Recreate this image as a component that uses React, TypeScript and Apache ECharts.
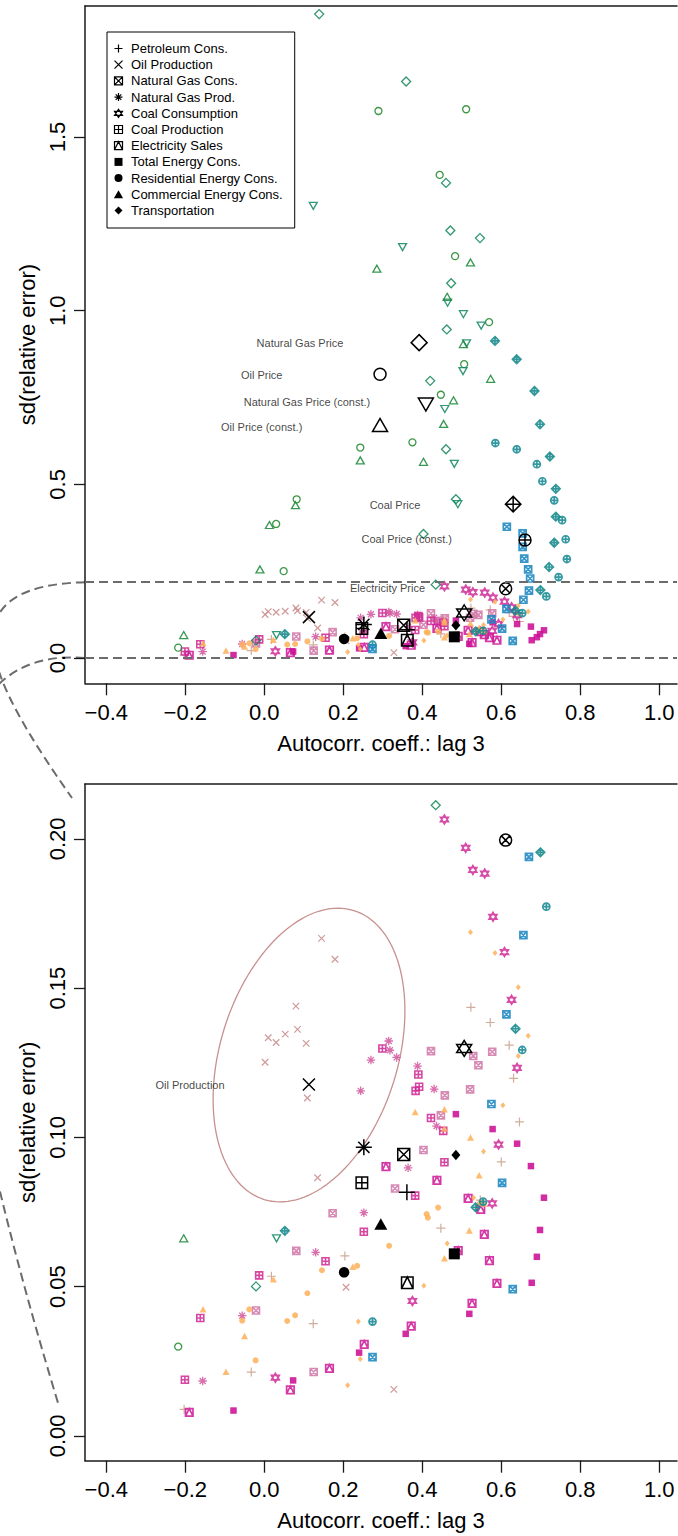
import React, { useEffect, useRef } from "react";
import * as echarts from "echarts";

// ---------- tick labels ----------
const xTicks = [-0.4, -0.2, 0.0, 0.2, 0.4, 0.6, 0.8, 1.0];
const yTicksTop = [0.0, 0.5, 1.0, 1.5];
const yTicksBottom = [0.0, 0.05, 0.1, 0.15, 0.2];

// ---------- series values: [autocorr lag 3, sd(relative error)] ----------
const petroleumCons = [[0.018,0.0535],[0.124,0.0376],[-0.203,0.0089],[-0.033,0.0214],[0.631,0.1198],[0.646,0.1052],[0.600,0.0918],[0.547,0.0790],[0.447,0.0696],[0.204,0.0603],[0.523,0.1436],[0.572,0.1385],[0.620,0.1309]];
const oilProduction = [[0.145,0.1667],[0.179,0.1597],[0.080,0.1440],[0.010,0.1334],[0.030,0.1318],[0.053,0.1346],[0.084,0.1362],[0.106,0.1315],[0.002,0.1252],[0.109,0.1132],[0.135,0.0865],[0.207,0.0498],[0.328,0.0156]];
const naturalGasCons = [[0.173,0.0746],[0.081,0.0620],[-0.021,0.0420],[0.125,0.0214],[0.422,0.1289],[0.529,0.1273],[0.577,0.1287],[0.542,0.1242],[0.457,0.1141],[0.521,0.1161],[0.447,0.1074],[0.403,0.0958],[0.331,0.0829]];
const naturalGasProd = [[0.130,0.0615],[-0.056,0.0403],[-0.156,0.0184],[0.270,0.1259],[0.335,0.1268],[0.388,0.1239],[0.244,0.1156],[0.430,0.1162],[0.436,0.1038],[0.364,0.0898],[0.252,0.0748],[0.315,0.1323],[0.318,0.1292]];
const coalConsumption = [[0.028,0.0195],[0.375,0.0452],[0.640,0.1233],[0.593,0.0976],[0.577,0.0779],[0.456,0.2065],[0.510,0.1970],[0.528,0.1896],[0.558,0.1884],[0.579,0.1739],[0.608,0.1621],[0.626,0.1461]];
const coalProduction = [[0.155,0.0585],[-0.013,0.0538],[-0.162,0.0395],[-0.201,0.0188],[0.390,0.1211],[0.383,0.1156],[0.392,0.1170],[0.422,0.1065],[0.453,0.1022],[0.456,0.0917],[0.382,0.0805],[0.252,0.0684],[0.299,0.1298]];
const electricitySales = [[-0.190,0.0079],[0.066,0.0154],[0.526,0.0444],[0.372,0.0368],[0.253,0.0307],[0.165,0.0226],[0.308,0.0902],[0.437,0.0856],[0.516,0.0796],[0.548,0.0759],[0.557,0.0675],[0.491,0.0621],[0.570,0.0587],[0.589,0.0511]];
const totalEnergyCons = [[-0.078,0.0085],[0.073,0.0186],[0.519,0.0409],[0.358,0.0342],[0.240,0.0279],[0.485,0.1078],[0.578,0.1028],[0.640,0.0979],[0.675,0.0904],[0.708,0.0798],[0.698,0.0690],[0.690,0.0600],[0.677,0.0513]];
const residentialCons = [[0.146,0.0555],[0.109,0.0478],[-0.038,0.0424],[-0.056,0.0386],[0.058,0.0385],[0.078,0.0404],[-0.022,0.0253],[0.440,0.0765],[0.411,0.0743],[0.414,0.0731],[0.316,0.0637],[0.235,0.0570],[0.546,0.0781]];
const commercialCons = [[0.023,0.0525],[-0.155,0.0424],[-0.050,0.0335],[-0.097,0.0215],[0.382,0.1085],[0.456,0.1094],[0.456,0.1030],[0.522,0.1000],[0.544,0.0873],[0.519,0.0688],[0.456,0.0595],[0.224,0.0567],[0.556,0.0779]];
const transportation = [[0.211,0.0170],[0.238,0.0383],[0.243,0.0258],[0.643,0.1273],[0.604,0.1108],[0.555,0.0953],[0.530,0.0798],[0.463,0.0645],[0.404,0.0503],[0.522,0.1687],[0.584,0.1618],[0.643,0.1503],[0.668,0.1341]];
const naturalGasPrice = [[0.139,1.854],[0.359,1.660],[0.460,1.368],[0.471,1.231],[0.546,1.209],[0.473,1.079],[0.462,0.946],[0.420,0.798],[0.460,0.601],[0.485,0.457],[0.403,0.357],[-0.021,0.0501],[0.434,0.2113]];
const oilPrice = [[0.289,1.575],[0.511,1.580],[0.444,1.391],[0.483,1.157],[0.569,0.967],[0.506,0.846],[0.447,0.758],[0.243,0.606],[0.375,0.621],[0.082,0.457],[0.030,0.386],[0.049,0.250],[-0.218,0.0299]];
const naturalGasPriceConst = [[0.124,1.302],[0.350,1.183],[0.464,1.023],[0.504,0.990],[0.549,0.957],[0.512,0.906],[0.503,0.826],[0.457,0.717],[0.481,0.559],[0.490,0.443],[0.031,0.0662]];
const oilPriceConst = [[0.522,1.139],[0.285,1.121],[0.463,1.040],[0.504,0.904],[0.573,0.804],[0.479,0.742],[0.454,0.674],[0.243,0.569],[0.403,0.565],[0.079,0.440],[0.013,0.383],[-0.011,0.255],[-0.204,0.0662]];
const coalPrice = [[0.584,0.913],[0.639,0.860],[0.684,0.769],[0.698,0.673],[0.723,0.580],[0.738,0.487],[0.738,0.407],[0.734,0.332],[0.721,0.262],[0.699,0.1955],[0.636,0.1364],[0.052,0.0687],[0.535,0.0766]];
const coalPriceConst = [[0.585,0.619],[0.639,0.601],[0.690,0.558],[0.704,0.509],[0.734,0.454],[0.754,0.397],[0.763,0.342],[0.766,0.285],[0.745,0.233],[0.714,0.1773],[0.653,0.1293],[0.554,0.0785],[0.274,0.0383]];
const electricityPrice = [[0.614,0.378],[0.654,0.359],[0.654,0.320],[0.658,0.286],[0.668,0.255],[0.673,0.229],[0.670,0.1940],[0.656,0.1678],[0.613,0.1412],[0.575,0.1112],[0.602,0.0848],[0.629,0.0492],[0.274,0.0264]];

// series names (same order as meanPoints)
const seriesNames = [
  "Petroleum Cons.", "Oil Production", "Natural Gas Cons.", "Natural Gas Prod.",
  "Coal Consumption", "Coal Production", "Electricity Sales", "Total Energy Cons.",
  "Residential Energy Cons.", "Commercial Energy Cons.", "Transportation",
  "Natural Gas Price", "Oil Price", "Natural Gas Price (const.)", "Oil Price (const.)",
  "Coal Price", "Coal Price (const.)", "Electricity Price",
];
// black summary markers
const meanPoints = [
  [0.361,0.0816],[0.113,0.1177],[0.353,0.0943],[0.252,0.0967],
  [0.506,0.1298],[0.247,0.0848],[0.362,0.0513],[0.481,0.0610],
  [0.202,0.0548],[0.295,0.0710],[0.485,0.0941],
  [0.392,0.908],[0.293,0.817],[0.409,0.730],[0.293,0.671],
  [0.630,0.443],[0.660,0.340],[0.611,0.1996],
];
// text annotations: [text, x, y]
const priceLabels: [string, number, number][] = [
  ["Natural Gas Price", 0.0904, 0.9061],
  ["Oil Price", -0.0066, 0.8149],
  ["Natural Gas Price (const.)", 0.1081, 0.7371],
  ["Oil Price (const.)", -0.0066, 0.6660],
  ["Coal Price", 0.3309, 0.4405],
  ["Coal Price (const.)", 0.3605, 0.3418],
  ["Electricity Price", 0.3119, 0.2007],
];
const zoomLabels: [string, number, number][] = [["Oil Production", -0.188, 0.1175]];
// ellipse around Oil Production: [cx, cy, axis1 dx, axis1 dy, axis2 dx, axis2 dy]
const oilEllipse = [[0.1132, 0.1276, 0.1134, 0.0484, 0.2147, -0.0088]];

// ---------- layout constants ----------
const X_MIN = -0.4539, X_MAX = 1.0448;
const TOP_Y_MIN = -0.0728, TOP_Y_MAX = 1.8773;
const BOT_Y_MIN = -0.0083, BOT_Y_MAX = 0.2184;
const FONT = "'Liberation Sans', Arial, Helvetica, sans-serif";

// ---------- R-style symbols ----------
const CIRC = "M10,5A5,5,0,1,1,0,5A5,5,0,1,1,10,5Z";
const P_PLUS = "path://M5,0L5,10M0,5L10,5";
const P_CROSS = "path://M0,0L10,10M10,0L0,10";
const P_SQX = "path://M0,0L10,0L10,10L0,10ZM0,0L10,10M10,0L0,10";
const P_AST = "path://M5,0L5,10M0,5L10,5M1.5,1.5L8.5,8.5M8.5,1.5L1.5,8.5";
const P_STAR = "path://M5,0L10,7.5L0,7.5ZM5,10L10,2.5L0,2.5Z";
const P_SQPLUS = "path://M0,0L10,0L10,10L0,10ZM5,0L5,10M0,5L10,5";
const P_SQTRI = "path://M0,0L10,0L10,10L0,10ZM0,10L5,0L10,10";
const P_CIRCLE = "path://" + CIRC;
const P_TRI_UP = "path://M5,0L10,8.66L0,8.66Z";
const P_TRI_DN = "path://M0,0L10,0L5,8.66Z";
const P_DIAM = "path://M5,0L10,5L5,10L0,5Z";
const P_DIAMPLUS = "path://M5,0L10,5L5,10L0,5ZM5,0L5,10M0,5L10,5";
const P_CIRCPLUS = "path://" + CIRC + "M5,0L5,10M0,5L10,5";
const P_CIRCX = "path://" + CIRC + "M1.46,1.46L8.54,8.54M8.54,1.46L1.46,8.54";
const P_SQ_FILL = "path://M0,0L10,0L10,10L0,10Z";
const P_DIAM_SMALL = "path://M5,1.5L8.5,5L5,8.5L1.5,5Z";

type Spec = {
  data: number[][]; symbol: string; meanSymbol: string; legendIcon: string; size: any; meanSize: any;
  color: string; filled: boolean; lw: number; legend: boolean;
};
const ORANGE = "#FDB35E";
const specs: Spec[] = [
  { data: petroleumCons, symbol: P_PLUS, meanSymbol: P_PLUS, legendIcon: P_PLUS, size: 9, meanSize: 16, color: "#C9A38F", filled: false, lw: 1.2, legend: true },
  { data: oilProduction, symbol: P_CROSS, meanSymbol: P_CROSS, legendIcon: P_CROSS, size: 6.5, meanSize: 12, color: "#C98C8C", filled: false, lw: 1.2, legend: true },
  { data: naturalGasCons, symbol: P_SQX, meanSymbol: P_SQX, legendIcon: P_SQX, size: 7, meanSize: 12, color: "#D27BAA", filled: false, lw: 1.6, legend: true },
  { data: naturalGasProd, symbol: P_AST, meanSymbol: P_AST, legendIcon: P_AST, size: 8.5, meanSize: 16, color: "#D35A9F", filled: false, lw: 1.3, legend: true },
  { data: coalConsumption, symbol: P_STAR, meanSymbol: P_STAR, legendIcon: P_STAR, size: [8, 9], meanSize: [15, 16], color: "#D1339C", filled: false, lw: 1.6, legend: true },
  { data: coalProduction, symbol: P_SQPLUS, meanSymbol: P_SQPLUS, legendIcon: P_SQPLUS, size: 7, meanSize: 11.5, color: "#D02C95", filled: false, lw: 1.6, legend: true },
  { data: electricitySales, symbol: P_SQTRI, meanSymbol: P_SQTRI, legendIcon: P_SQTRI, size: 7.5, meanSize: 11.5, color: "#CE1E98", filled: false, lw: 1.7, legend: true },
  { data: totalEnergyCons, symbol: "rect", meanSymbol: "rect", legendIcon: P_SQ_FILL, size: 6.5, meanSize: 11, color: "#CC0F96", filled: true, lw: 0, legend: true },
  { data: residentialCons, symbol: "circle", meanSymbol: "circle", legendIcon: P_CIRCLE, size: 6, meanSize: 10.5, color: ORANGE, filled: true, lw: 0, legend: true },
  { data: commercialCons, symbol: "triangle", meanSymbol: "triangle", legendIcon: P_TRI_UP, size: [7, 6.5], meanSize: [13, 11.5], color: ORANGE, filled: true, lw: 0, legend: true },
  { data: transportation, symbol: "diamond", meanSymbol: "diamond", legendIcon: P_DIAM, size: [5, 6], meanSize: [9, 10.5], color: ORANGE, filled: true, lw: 0, legend: true },
  { data: naturalGasPrice, symbol: P_DIAM, meanSymbol: P_DIAM, legendIcon: P_DIAM, size: 9, meanSize: 16, color: "#16895A", filled: false, lw: 1.3, legend: false },
  { data: oilPrice, symbol: P_CIRCLE, meanSymbol: P_CIRCLE, legendIcon: P_CIRCLE, size: 7, meanSize: 12, color: "#23892E", filled: false, lw: 1.3, legend: false },
  { data: naturalGasPriceConst, symbol: P_TRI_DN, meanSymbol: P_TRI_DN, legendIcon: P_TRI_DN, size: [8, 7], meanSize: [15, 13], color: "#168A66", filled: false, lw: 1.3, legend: false },
  { data: oilPriceConst, symbol: P_TRI_UP, meanSymbol: P_TRI_UP, legendIcon: P_TRI_UP, size: [8, 7], meanSize: [15, 13], color: "#1E8A3A", filled: false, lw: 1.3, legend: false },
  { data: coalPrice, symbol: P_DIAMPLUS, meanSymbol: P_DIAMPLUS, legendIcon: P_DIAMPLUS, size: 8.5, meanSize: 15.5, color: "#14898B", filled: false, lw: 1.7, legend: false },
  { data: coalPriceConst, symbol: P_CIRCPLUS, meanSymbol: P_CIRCPLUS, legendIcon: P_CIRCPLUS, size: 7, meanSize: 12, color: "#178A93", filled: false, lw: 1.7, legend: false },
  { data: electricityPrice, symbol: P_SQX, meanSymbol: P_CIRCX, legendIcon: P_SQX, size: 7, meanSize: 12, color: "#1C88C2", filled: false, lw: 1.7, legend: false },
];

function styleFor(color: string, filled: boolean, lw: number, opacity = 0.9) {
  return filled
    ? { color, borderWidth: 0, opacity }
    : { color: "none", borderColor: color, borderWidth: lw, opacity };
}

const fmt1 = (v: number) => (v < -1e-9 ? "\u2212" : "") + Math.abs(v).toFixed(1);
const fmt2 = (v: number) => Math.abs(v).toFixed(2);
const axisLineStyle = { color: "#1a1a1a", width: 1.5 };

function mkX(grid: number, pos: string, main: boolean) {
  return {
    type: "value", gridIndex: grid, position: pos, min: X_MIN, max: X_MAX,
    axisLine: { show: true, onZero: false, lineStyle: axisLineStyle },
    axisTick: { show: main, customValues: xTicks, length: 12, lineStyle: { color: "#1a1a1a", width: 1.3 } },
    axisLabel: { show: main, customValues: xTicks, formatter: fmt1, fontSize: 22, margin: 18, color: "#000", fontFamily: FONT },
    splitLine: { show: false },
    name: main ? "Autocorr. coeff.: lag 3" : "",
    nameLocation: "middle", nameGap: 49,
    nameTextStyle: { fontSize: 22, color: "#000", fontFamily: FONT },
  };
}
function mkY(grid: number, min: number, max: number, ticks: number[], fmt: (v: number) => string) {
  return {
    type: "value", gridIndex: grid, min, max,
    axisLine: { show: true, onZero: false, lineStyle: axisLineStyle },
    axisTick: { show: true, customValues: ticks, length: 11, lineStyle: { color: "#1a1a1a", width: 1.3 } },
    axisLabel: { customValues: ticks, formatter: fmt, rotate: 90, fontSize: 22, margin: 17, color: "#000", fontFamily: FONT },
    splitLine: { show: false },
    name: "sd(relative error)", nameLocation: "middle", nameRotate: 90, nameGap: 45,
    nameTextStyle: { fontSize: 22, color: "#000", fontFamily: FONT },
  };
}

function buildOption() {
  const series: any[] = [];
  specs.forEach((s, i) => {
    const name = seriesNames[i];
    const common = {
      type: "scatter", name, symbol: s.symbol, symbolSize: s.size, silent: true,
      itemStyle: styleFor(s.color, s.filled, s.lw, 0.88), emphasis: { disabled: true }, z: 2,
    };
    series.push({ ...common, xAxisIndex: 0, yAxisIndex: 0, data: s.data });
    series.push({ ...common, xAxisIndex: 2, yAxisIndex: 1, data: s.data.filter((p) => p[1] <= BOT_Y_MAX) });
    const meanCommon = {
      type: "scatter", name: name + " (summary)", symbol: s.meanSymbol, symbolSize: s.meanSize, silent: true,
      itemStyle: styleFor("#000", s.filled, 1.5, 1), emphasis: { disabled: true }, z: 4,
    };
    const m = meanPoints[i];
    series.push({ ...meanCommon, xAxisIndex: 0, yAxisIndex: 0, data: [m] });
    if (m[1] <= BOT_Y_MAX) series.push({ ...meanCommon, xAxisIndex: 2, yAxisIndex: 1, data: [m] });
  });

  // dashed reference lines on top panel (range of the zoomed panel)
  series.push({
    type: "scatter", name: "_ref", xAxisIndex: 0, yAxisIndex: 0, data: [], silent: true,
    markLine: {
      silent: true, symbol: ["none", "none"], label: { show: false },
      lineStyle: { color: "#6b6b6b", width: 2, type: [9, 5] },
      data: [{ yAxis: 0 }, { yAxis: BOT_Y_MAX }],
    },
  });

  const labelSeries = (xi: number, yi: number, labels: [string, number, number][]) => ({
    type: "scatter", name: "_labels", xAxisIndex: xi, yAxisIndex: yi, silent: true, z: 5,
    symbolSize: 1, itemStyle: { color: "rgba(0,0,0,0)" },
    data: labels.map(([t, x, y]) => ({ name: t, value: [x, y] })),
    label: { show: true, position: "inside", formatter: "{b}", fontSize: 11, color: "#111", fontFamily: FONT },
  });
  series.push(labelSeries(0, 0, priceLabels));
  series.push(labelSeries(2, 1, zoomLabels));

  series.push({
    type: "custom", name: "_ellipse", xAxisIndex: 2, yAxisIndex: 1, silent: true, z: 1,
    data: oilEllipse, encode: { x: 0, y: 1 },
    renderItem: (_p: any, api: any) => {
      const cx = api.value(0), cy = api.value(1);
      const c = api.coord([cx, cy]);
      const pa = api.coord([cx + api.value(2), cy + api.value(3)]);
      const pb = api.coord([cx + api.value(4), cy + api.value(5)]);
      const ux = pa[0] - c[0], uy = pa[1] - c[1], vx = pb[0] - c[0], vy = pb[1] - c[1];
      const pts: number[][] = [];
      for (let k = 0; k <= 144; k++) {
        const t = (k / 144) * Math.PI * 2;
        pts.push([c[0] + ux * Math.cos(t) + vx * Math.sin(t), c[1] + uy * Math.cos(t) + vy * Math.sin(t)]);
      }
      return { type: "polyline", shape: { points: pts }, style: { stroke: "#C99090", lineWidth: 1.3, fill: "none" } };
    },
  });

  const legendData = specs
    .map((s, i) => ({ s, i }))
    .filter(({ s }) => s.legend)
    .map(({ s, i }) => ({
      name: seriesNames[i],
      icon: s.legendIcon,
      itemStyle: s.filled
        ? { color: "#000", borderWidth: 0, opacity: 1 }
        : { color: "none", borderColor: "#000", borderWidth: 1.2, opacity: 1 },
    }));

  return {
    animation: false,
    backgroundColor: "#fff",
    textStyle: { fontFamily: FONT },
    grid: [
      { left: 85, top: 6, width: 592, height: 677.3 },
      { left: 85, top: 784, width: 592, height: 676.7 },
    ],
    xAxis: [mkX(0, "bottom", true), mkX(0, "top", false), mkX(1, "bottom", true), mkX(1, "top", false)],
    yAxis: [mkY(0, TOP_Y_MIN, TOP_Y_MAX, yTicksTop, fmt1), mkY(1, BOT_Y_MIN, BOT_Y_MAX, yTicksBottom, fmt2)],
    legend: {
      show: true, orient: "vertical", left: 107, top: 32,
      padding: [10, 12, 11, 5], itemWidth: 15, itemHeight: 8, itemGap: 3.2,
      borderColor: "#000", borderWidth: 1, backgroundColor: "#fff",
      selectedMode: false, symbolKeepAspect: true,
      textStyle: { fontSize: 13, lineHeight: 13, color: "#000", fontFamily: FONT },
      data: legendData,
    },
    series,
  };
}

export default function App() {
  const ref = useRef<HTMLDivElement>(null);
  useEffect(() => {
    const el = ref.current as HTMLDivElement;
    const chart = echarts.init(el, null, { renderer: "svg", width: 678, height: 1536 });
    chart.setOption(buildOption() as any);
    const xL = chart.convertToPixel({ xAxisIndex: 0 } as any, X_MIN) as unknown as number;
    const yA = chart.convertToPixel({ yAxisIndex: 0 } as any, BOT_Y_MAX) as unknown as number;
    const yB = chart.convertToPixel({ yAxisIndex: 0 } as any, 0) as unknown as number;
    const yC = chart.convertToPixel({ yAxisIndex: 1 } as any, BOT_Y_MAX) as unknown as number;
    const yD = chart.convertToPixel({ yAxisIndex: 1 } as any, 0) as unknown as number;
    const dashStyle = { stroke: "#6b6b6b", lineWidth: 2, lineDash: [9, 5], fill: "none" };
    chart.setOption({
      graphic: [
        {
          type: "bezierCurve", silent: true, z: 0,
          shape: { x1: xL, y1: yA, cpx1: xL - 145, cpy1: yA + 4, cpx2: xL - 95, cpy2: yA + 99, x2: xL - 13, y2: yC + 14 },
          style: dashStyle,
        },
        {
          type: "bezierCurve", silent: true, z: 0,
          shape: { x1: xL, y1: yB, cpx1: xL - 205, cpy1: yB - 18, cpx2: xL - 145, cpy2: yB + 355, x2: xL - 27, y2: yD - 33 },
          style: dashStyle,
        },
      ],
    } as any);
    return () => chart.dispose();
  }, []);
  return (
    <div
      ref={ref}
      style={{ position: "absolute", left: 0, top: 0, width: 678, height: 1536, background: "#fff" }}
    />
  );
}
